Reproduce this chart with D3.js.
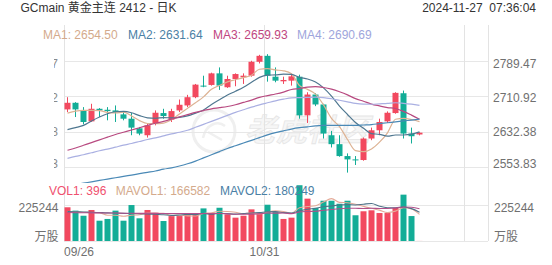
<!DOCTYPE html>
<html><head><meta charset="utf-8">
<script src="https://cdn.jsdelivr.net/npm/d3@7"></script>
<style>
html,body{margin:0;padding:0;background:#fff;}
svg{display:block;font-family:"Liberation Sans",Arial,"Noto Sans CJK SC",sans-serif;}
</style></head><body>
<svg id="c" width="552" height="265"></svg>
<script>
// ---------- data ----------
const dates = ["09/26","09/27","09/30","10/01","10/02","10/03","10/04","10/07","10/08","10/09","10/10","10/11","10/14","10/15","10/16","10/17","10/18","10/21","10/22","10/23","10/24","10/25","10/28","10/29","10/30","10/31","11/01","11/04","11/05","11/06","11/07","11/08","11/11","11/12","11/13","11/14","11/15","11/18","11/19","11/20","11/21","11/22","11/25","11/26","11/27"];
const openP  = [2681.6,2696.3,2679.4,2655.1,2683.0,2680.8,2679.4,2670.6,2661.0,2639.7,2624.3,2650.0,2673.5,2658.8,2679.4,2690.4,2708.7,2734.4,2735.9,2761.6,2730.8,2749.1,2752.8,2756.4,2787.3,2800.5,2754.2,2744.0,2745.4,2754.2,2668.4,2714.6,2692.6,2624.3,2604.5,2578.1,2570.7,2569.3,2617.0,2635.3,2655.1,2673.5,2717.5,2628.0,2626.0];
const highP  = [2708.7,2697.7,2686.7,2694.1,2684.5,2686.7,2690.4,2675.7,2673.5,2642.7,2650.0,2679.4,2683.0,2683.0,2703.6,2713.9,2738.1,2756.4,2763.1,2774.8,2756.4,2761.6,2761.6,2789.5,2802.7,2804.2,2774.8,2754.2,2760.1,2758.6,2719.7,2717.5,2694.1,2633.9,2624.3,2584.0,2578.1,2619.2,2641.2,2661.0,2677.2,2719.7,2723.4,2641.2,2631.0];
const lowP   = [2675.7,2664.7,2648.5,2653.7,2664.7,2657.4,2653.7,2657.4,2624.3,2624.3,2619.2,2646.3,2661.0,2653.7,2675.7,2686.7,2706.5,2730.8,2734.4,2724.9,2729.3,2733.0,2738.1,2754.2,2783.6,2743.2,2741.8,2738.1,2734.4,2661.0,2651.5,2688.9,2617.0,2597.2,2576.6,2541.4,2558.3,2567.8,2613.3,2624.3,2651.5,2672.0,2617.0,2606.0,2624.0];
const closeP = [2696.3,2681.6,2653.7,2683.0,2679.4,2677.9,2675.7,2661.0,2641.2,2628.0,2646.3,2674.2,2666.9,2677.9,2691.9,2708.7,2736.6,2732.2,2761.6,2734.4,2749.1,2760.1,2756.4,2787.3,2800.5,2756.4,2745.4,2746.9,2755.0,2668.4,2714.6,2692.6,2628.0,2604.5,2578.1,2570.7,2568.5,2617.0,2635.3,2653.7,2674.2,2718.3,2628.0,2622.1,2630.0];
const ma1 = [2673.5,2677.9,2679.4,2679.4,2678.8,2675.1,2673.9,2675.4,2667.0,2656.8,2650.4,2650.1,2651.3,2658.7,2671.4,2683.9,2696.4,2709.5,2726.2,2734.7,2742.8,2747.5,2752.3,2757.5,2770.7,2772.1,2769.2,2767.3,2760.8,2734.4,2726.1,2715.5,2691.7,2661.6,2643.6,2614.8,2590.0,2587.8,2593.9,2609.0,2629.7,2659.7,2661.9,2659.3,2654.50];
const ma2 = [2636.8,2641.2,2646.3,2655.9,2664.7,2672.0,2676.4,2677.2,2674.2,2667.8,2662.8,2662.0,2663.4,2662.9,2664.1,2667.2,2673.3,2680.4,2692.4,2703.1,2713.4,2721.9,2730.9,2741.8,2752.7,2757.5,2758.3,2759.8,2759.2,2752.6,2749.1,2742.4,2729.5,2711.2,2689.0,2670.4,2652.7,2639.7,2627.8,2626.3,2622.3,2624.8,2624.8,2626.6,2631.64];
const ma3 = [2591,2596,2602,2608,2614,2620,2626,2631,2636,2641,2646,2651,2655,2660,2665,2670,2675,2679,2683,2685.4,2688.1,2692.0,2697.1,2702.3,2708.4,2712.3,2715.8,2720.1,2725.8,2727.8,2731.2,2732.1,2730.2,2726.5,2720.8,2713.9,2705.5,2699.8,2693.5,2689.4,2685.7,2683.6,2677.2,2668.9,2659.93];
const ma4 = [2572.9,2577.3,2581.0,2585.4,2589.8,2593.5,2597.9,2602.3,2606.0,2610.4,2614.8,2618.5,2622.9,2627.3,2630.9,2635.3,2641.9,2648.5,2655.1,2661.8,2668.4,2675.0,2680.9,2686.7,2691.8,2696.3,2700.7,2704.3,2707.3,2707.8,2708.4,2708.8,2707.9,2705.3,2701.9,2698.4,2694.8,2693.3,2693.1,2694.0,2694.9,2696.4,2695.1,2693.2,2690.69];
const ma5 = [2512,2515,2518,2521,2524,2527,2530,2533,2536,2539,2542,2545,2549,2552,2556,2561,2567,2574,2581,2588,2595,2601,2607,2613,2619,2625,2630,2634,2638,2641,2643,2645,2646,2646,2646,2646,2646,2647,2648,2650,2652,2654,2656,2658,2660];
const maNames = ["MA1","MA2","MA3","MA4"];
const volume = [211000,190000,158000,194000,127000,138000,190000,127000,225000,142000,194000,177000,125000,156000,156000,173000,173000,204000,173000,208000,167000,146000,158000,198000,177000,227000,181000,138000,146000,349000,265000,207000,252000,252000,233000,252000,161000,186000,192000,175000,175000,207000,290000,156000,396];
const mavol1 = [185000,183000,180000,178000,176000,161400,161400,155200,161400,164400,175600,173000,172600,158800,161600,157400,156600,172400,175800,186200,185000,179600,170400,175400,169200,181200,188200,184200,173800,208200,215800,221000,243800,265000,241800,239200,230000,216800,204800,193200,177800,187000,207800,200600,166582];
const mavol2 = [184000,183000,181000,180000,178000,176000,175000,173000,172000,170200,168500,167200,163900,160100,163000,166500,164800,172500,167300,173900,171200,168100,171400,175600,177700,183100,183900,177300,174600,188700,198500,204600,214000,219400,225000,227500,225500,230300,234900,217500,208500,208500,212300,202700,180249];
const mavol3 = [178000,177000,177000,176000,176000,175000,175000,174000,174000,173000,173000,173000,172000,172000,172000,172000,172000,172000,172000,172100,169900,167700,167700,167900,170400,174800,174400,174900,171000,181300,184900,186400,192700,197500,201400,205300,204700,203800,204800,203100,203500,206600,213200,211100,202200];
const priceTicks = [2789.47, 2710.92, 2632.38, 2553.83];
const volTicks = [225244];
const dateTickIdx = [0, 25];
const title = "GCmain 黄金主连 2412 - 日K";
const stamp = "2024-11-27  07:36:04";

// ---------- styles ----------
const UP = "#f2495f", DOWN = "#13ad97";
const maLegendCol = ["#d4aa8c","#4a80a5","#c04680","#9ea5dc"];
const maLineCol = ["#ddb293","#4f7790","#b84a80","#aab0e2","#4a89b6"];
const volLegendCol = ["#f0506e","#d4aa8c","#4a80a5"];
const volLineCol = ["#e4aa98","#4f7288","#b0508a"];

const svg = d3.select("#c");
svg.append("rect").attr("width",552).attr("height",265).attr("fill","#fff");

const L = 64, R = 488;
const x = d3.scaleLinear().domain([0, 53]).range([L, R]);
const y = d3.scaleLinear().domain([2553.83, 2789.47]).range([167, 60.8]);
const yv = d3.scaleLinear().domain([0, 225244]).range([241, 205]);

const defs = svg.append("defs");
defs.append("clipPath").attr("id","mainClip").append("rect").attr("x",L).attr("y",25).attr("width",R-L).attr("height",158);
defs.append("clipPath").attr("id","volClip").append("rect").attr("x",L).attr("y",180).attr("width",R-L).attr("height",61);
defs.append("clipPath").attr("id","leftLab").append("rect").attr("x",54).attr("y",40).attr("width",10).attr("height",140);

// watermark
const wm = svg.append("g");
wm.append("circle").attr("cx",214).attr("cy",131).attr("r",21).attr("fill","none").attr("stroke","#efefef").attr("stroke-width",3);
wm.append("path").attr("d","M203,138 C206,124 218,120 225,126 M208,132 L222,140").attr("fill","none").attr("stroke","#f0f0f0").attr("stroke-width",2.5);
wm.append("text").attr("x",245).attr("y",141).attr("font-size",31).attr("font-style","italic").attr("font-weight","bold")
  .attr("font-family","Noto Sans CJK SC").attr("fill","#f6f6f6").attr("stroke","#e6e6e6").attr("stroke-width",0.8).text("老虎社区");

// grid
const grid = svg.append("g");
grid.selectAll(".hg").data(priceTicks).join("line")
  .attr("x1",L).attr("x2",R).attr("y1",d=>Math.round(y(d))+0.5).attr("y2",d=>Math.round(y(d))+0.5)
  .attr("stroke","#e7e7e7");
grid.selectAll(".vg").data(volTicks).join("line").attr("class","vg")
  .attr("x1",L).attr("x2",R).attr("y1",d=>Math.round(yv(d))+0.5).attr("y2",d=>Math.round(yv(d))+0.5)
  .attr("stroke","#e7e7e7");
grid.append("line").attr("x1",L).attr("x2",R).attr("y1",yv(0)+0.5).attr("y2",yv(0)+0.5).attr("stroke","#e7e7e7");
[0,25,50].forEach(i=>{
  grid.append("line").attr("x1",Math.round(x(i))+0.5).attr("x2",Math.round(x(i))+0.5).attr("y1",25).attr("y2",241).attr("stroke","#e3e3e3");
});
grid.append("line").attr("x1",R+0.5).attr("x2",R+0.5).attr("y1",25).attr("y2",241).attr("stroke","#e3e3e3");

// candles
const idx = d3.range(closeP.length);
const cg = svg.append("g").attr("clip-path","url(#mainClip)");
const col = i => closeP[i] >= openP[i] ? UP : DOWN;
cg.selectAll(".wick").data(idx).join("line")
  .attr("x1",i=>Math.round(x(i))+3.5).attr("x2",i=>Math.round(x(i))+3.5)
  .attr("y1",i=>y(highP[i])).attr("y2",i=>y(lowP[i]))
  .attr("stroke",col).attr("stroke-width",1);
cg.selectAll(".body").data(idx).join("rect")
  .attr("x",i=>Math.round(x(i))+0.5).attr("width",6)
  .attr("y",i=>y(Math.max(openP[i],closeP[i])))
  .attr("height",i=>Math.max(1, y(Math.min(openP[i],closeP[i])) - y(Math.max(openP[i],closeP[i]))))
  .attr("fill",col);

// MA lines
const mas = [ma1, ma2, ma3, ma4, ma5];
const lineGen = d3.line().x((d,i)=>Math.round(x(i))+3.5).y(d=>y(d)).curve(d3.curveMonotoneX);
mas.forEach((arr,k)=>{
  cg.append("path").attr("d",lineGen(arr)).attr("fill","none").attr("stroke",maLineCol[k]).attr("stroke-width",1.2);
});

// volume bars
const vg = svg.append("g").attr("clip-path","url(#volClip)");
vg.selectAll(".vb").data(idx).join("rect")
  .attr("x",i=>Math.round(x(i))+0.5).attr("width",6)
  .attr("y",i=>yv(volume[i])).attr("height",i=>yv(0)-yv(volume[i]))
  .attr("fill",col);
const vLine = d3.line().x((d,i)=>Math.round(x(i))+3.5).y(d=>yv(d)).curve(d3.curveMonotoneX);
[mavol1, mavol2, mavol3].forEach((arr,k)=>{
  vg.append("path").attr("d",vLine(arr)).attr("fill","none").attr("stroke",volLineCol[k]).attr("stroke-width",1.1);
});

// texts
const T = (px,py,txt,opt={}) => {
  const t = svg.append("text").attr("x",px).attr("y",py).attr("font-size",opt.size||12)
    .attr("fill",opt.fill||"#666").attr("text-anchor",opt.anchor||"start").style("white-space","pre").text(txt);
  return t;
};
T(20.5, 11.5, title, {fill:"#333"});
T(536, 11.5, stamp, {fill:"#333", anchor:"end"});

const f2 = d3.format(".2f");
const maX = [43, 128, 213, 297];
const lastI = closeP.length - 1;
[ma1,ma2,ma3,ma4].forEach((arr,k)=>{
  T(maX[k], 38.5, maNames[k] + ": " + f2(arr[lastI]), {fill: maLegendCol[k]});
});

const labCenters = [64, 98, 132, 164];
priceTicks.forEach((p,k)=>{
  T(493, labCenters[k]+4.3, f2(p), {fill:"#707070"});
  T(58, labCenters[k]+4.3, f2(p), {fill:"#8a8a8a", anchor:"end"}).attr("clip-path","url(#leftLab)");
});

T(494, 212.3, String(volTicks[0]), {fill:"#707070"});
T(58.5, 212.3, String(volTicks[0]), {fill:"#707070", anchor:"end"});
T(494, 240.5, "万股", {fill:"#707070"});
T(58.5, 240.5, "万股", {fill:"#707070", anchor:"end"});

T(49, 195.2, "VOL1: " + volume[lastI], {fill: volLegendCol[0]});
T(115.7, 195.2, "MAVOL1: " + mavol1[lastI], {fill: volLegendCol[1]});
T(220, 195.2, "MAVOL2: " + mavol2[lastI], {fill: volLegendCol[2]});

dateTickIdx.forEach((i,k)=>{
  T(k===0 ? x(i) : Math.round(x(i))+0.5, 256, dates[i], {fill:"#707070", anchor: k===0 ? "start" : "middle"});
});
</script>
</body></html>
